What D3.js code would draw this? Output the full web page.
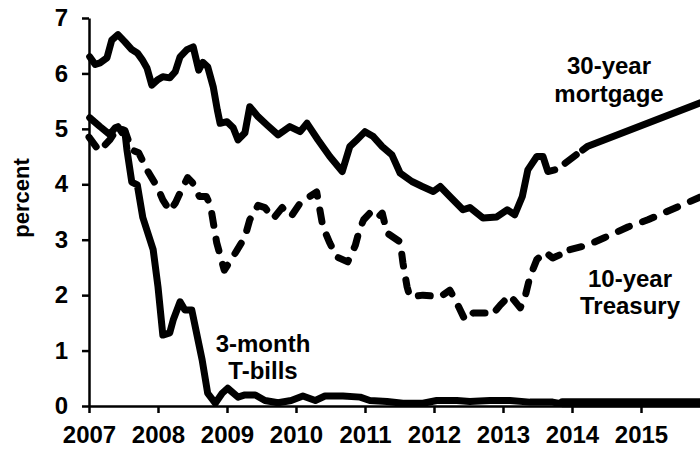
<!DOCTYPE html>
<html>
<head>
<meta charset="utf-8">
<script src="https://cdn.jsdelivr.net/npm/d3@7"></script>
<style>
  body { margin: 0; background: #fff; }
  svg { display: block; font-family: "Liberation Sans", Arial, sans-serif; font-weight: bold; }
</style>
</head>
<body>
<svg id="chart" width="700" height="449"></svg>
<script>
// Interest rates, percent; [decimal year, value]
const mortgageHist = [
  [2007.01, 6.30], [2007.09, 6.16], [2007.16, 6.19], [2007.26, 6.28], [2007.33, 6.60],
  [2007.42, 6.70], [2007.52, 6.57], [2007.62, 6.43], [2007.70, 6.37], [2007.77, 6.25],
  [2007.84, 6.10], [2007.91, 5.79], [2007.99, 5.88], [2008.07, 5.94], [2008.17, 5.92],
  [2008.25, 6.03], [2008.32, 6.30], [2008.42, 6.43], [2008.51, 6.48], [2008.59, 6.06],
  [2008.65, 6.20], [2008.72, 6.12], [2008.80, 5.76], [2008.86, 5.34], [2008.90, 5.10],
  [2009.00, 5.13], [2009.09, 5.02], [2009.16, 4.80], [2009.26, 4.93], [2009.33, 5.40],
  [2009.45, 5.22], [2009.58, 5.07], [2009.74, 4.89], [2009.91, 5.04], [2010.06, 4.95],
  [2010.16, 5.10], [2010.32, 4.80], [2010.49, 4.50], [2010.67, 4.23], [2010.78, 4.68],
  [2010.88, 4.80], [2011.00, 4.95], [2011.12, 4.86], [2011.25, 4.68], [2011.39, 4.53],
  [2011.51, 4.20], [2011.68, 4.05], [2011.83, 3.96], [2011.99, 3.87], [2012.09, 3.96],
  [2012.23, 3.78], [2012.42, 3.54], [2012.52, 3.58], [2012.71, 3.39], [2012.91, 3.41],
  [2013.06, 3.54], [2013.17, 3.45], [2013.28, 3.78], [2013.36, 4.26], [2013.49, 4.50],
  [2013.58, 4.50], [2013.65, 4.23], [2013.75, 4.26]
];
const mortgageFcst = [[2013.90, 4.38], [2014.22, 4.68], [2015.86, 5.47]];

const treasuryHist = [
  [2007.00, 4.85], [2007.15, 4.60], [2007.30, 4.80], [2007.42, 5.02], [2007.52, 4.97],
  [2007.62, 4.62], [2007.72, 4.57], [2007.84, 4.26], [2007.99, 3.95], [2008.07, 3.72],
  [2008.17, 3.52], [2008.25, 3.66], [2008.36, 3.95], [2008.43, 4.12], [2008.50, 4.03],
  [2008.60, 3.78], [2008.70, 3.78], [2008.76, 3.62], [2008.85, 2.95], [2008.96, 2.45],
  [2009.05, 2.62], [2009.15, 2.82], [2009.26, 3.05], [2009.33, 3.36], [2009.45, 3.62],
  [2009.55, 3.58], [2009.67, 3.38], [2009.80, 3.58], [2009.93, 3.42], [2010.07, 3.68],
  [2010.20, 3.78], [2010.30, 3.86], [2010.39, 3.23], [2010.49, 2.94], [2010.59, 2.69],
  [2010.75, 2.60], [2010.86, 2.90], [2010.92, 3.18], [2010.98, 3.36], [2011.10, 3.52],
  [2011.20, 3.42], [2011.25, 3.48], [2011.32, 3.12], [2011.51, 2.96], [2011.55, 2.58],
  [2011.61, 2.15], [2011.65, 1.97], [2011.84, 2.00], [2012.09, 1.97], [2012.23, 2.09],
  [2012.33, 1.86], [2012.45, 1.55], [2012.57, 1.68], [2012.77, 1.68], [2012.84, 1.64],
  [2012.96, 1.82], [2013.10, 2.00], [2013.25, 1.77], [2013.32, 1.97], [2013.39, 2.33],
  [2013.49, 2.64], [2013.61, 2.78], [2013.72, 2.67], [2013.83, 2.73]
];
const treasuryFcst = [
  [2013.97, 2.82], [2014.22, 2.90], [2014.46, 3.03], [2014.81, 3.23], [2015.10, 3.36], [2015.86, 3.77]
];

const tbillHist = [
  [2007.01, 5.20], [2007.16, 5.04], [2007.30, 4.90], [2007.38, 5.02], [2007.42, 5.04],
  [2007.48, 4.93], [2007.52, 4.95], [2007.55, 4.62], [2007.62, 4.04], [2007.70, 3.99],
  [2007.78, 3.40], [2007.93, 2.82], [2008.00, 2.15], [2008.07, 1.28], [2008.17, 1.32],
  [2008.22, 1.55], [2008.32, 1.88], [2008.39, 1.73], [2008.49, 1.73], [2008.57, 1.25],
  [2008.64, 0.83], [2008.72, 0.23], [2008.83, 0.05], [2008.93, 0.23], [2009.01, 0.32],
  [2009.16, 0.16], [2009.26, 0.20], [2009.41, 0.20], [2009.55, 0.10], [2009.74, 0.06],
  [2009.93, 0.10], [2010.10, 0.18], [2010.28, 0.10], [2010.42, 0.18], [2010.68, 0.18],
  [2010.93, 0.16], [2011.07, 0.10], [2011.32, 0.08], [2011.55, 0.05], [2011.84, 0.05],
  [2012.04, 0.10], [2012.33, 0.10], [2012.52, 0.08], [2012.81, 0.10], [2013.10, 0.10],
  [2013.39, 0.07], [2013.72, 0.07], [2013.80, 0.05]
];
const tbillFcst = [[2013.86, 0.06], [2015.86, 0.06]];

const xTicks = [2007, 2008, 2009, 2010, 2011, 2012, 2013, 2014, 2015];
const yTicks = [0, 1, 2, 3, 4, 5, 6, 7];

const labels = [
  { lines: ["30-year", "mortgage"], x: 609, y: 74, gap: 28 },
  { lines: ["10-year", "Treasury"], x: 630, y: 287, gap: 27 },
  { lines: ["3-month", "T-bills"], x: 263, y: 352, gap: 27 }
];

const svg = d3.select("#chart");

const x = d3.scaleLinear().domain([2007, 2016]).range([89, 710]);
const y = d3.scaleLinear().domain([0, 7]).range([406, 18]);

// Axes
const xAxis = svg.append("g")
  .attr("transform", `translate(0,${y(0)})`)
  .call(d3.axisBottom(x).tickValues(xTicks).tickFormat(d3.format("d"))
    .tickSize(7).tickSizeOuter(0).tickPadding(13));

const yAxis = svg.append("g")
  .attr("transform", `translate(${x(2007)},0)`)
  .call(d3.axisLeft(y).tickValues(yTicks).tickFormat(d3.format("d"))
    .tickSize(7).tickSizeOuter(0).tickPadding(14));

[xAxis, yAxis].forEach((g) => {
  g.select(".domain").attr("stroke", "#000").attr("stroke-width", 2.5);
  g.selectAll(".tick line").attr("stroke", "#000").attr("stroke-width", 2.5);
  g.selectAll(".tick text")
    .attr("fill", "#000")
    .attr("font-size", "24px")
    .attr("font-weight", "bold")
    .attr("font-family", "Liberation Sans, Arial, sans-serif");
});

// Y axis title
svg.append("text")
  .attr("transform", "translate(29,198) rotate(-90)")
  .attr("text-anchor", "middle")
  .attr("font-size", "22px")
  .text("percent");

const line = d3.line()
  .x((d) => x(d[0]))
  .y((d) => y(d[1]));

const drawLine = (data, width, dash) => {
  svg.append("path")
    .datum(data)
    .attr("fill", "none")
    .attr("stroke", "#000")
    .attr("stroke-width", width)
    .attr("stroke-linejoin", "round")
    .attr("stroke-linecap", "round")
    .attr("stroke-dasharray", dash)
    .attr("d", line);
};

// 10-year Treasury (dashed)
drawLine(treasuryHist, 7, "12,14");
drawLine(treasuryFcst, 7, "12,14");

// 30-year mortgage
drawLine(mortgageHist, 7, null);
drawLine(mortgageFcst, 7, "14,8,1000");

// 3-month T-bills
drawLine(tbillHist, 7, null);
drawLine(tbillFcst, 9, null);

// Series labels, one text per line
labels.forEach((l) => {
  l.lines.forEach((s, i) => {
    svg.append("text")
      .attr("x", l.x)
      .attr("y", l.y + i * l.gap)
      .attr("text-anchor", "middle")
      .attr("font-size", "24px")
      .text(s);
  });
});
</script>
</body>
</html>
